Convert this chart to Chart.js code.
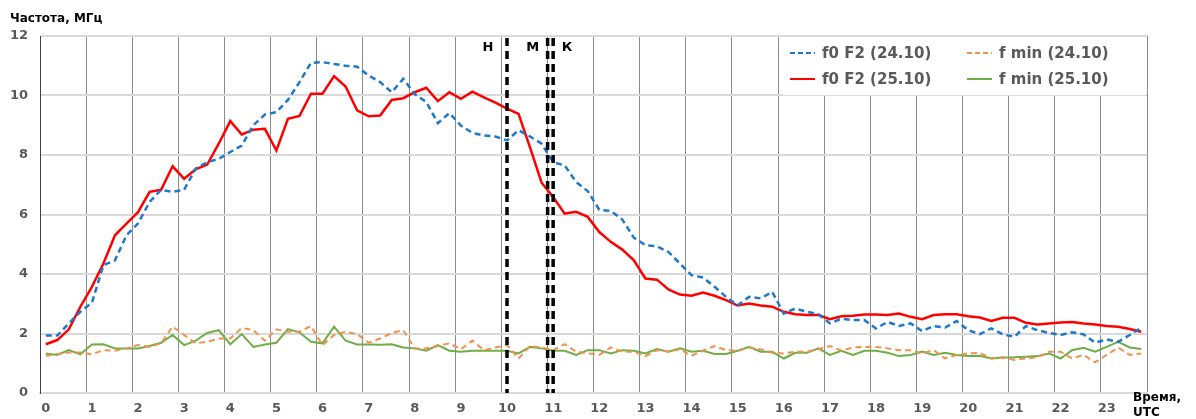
<!DOCTYPE html>
<html>
<head>
<meta charset="utf-8">
<script src="https://cdn.jsdelivr.net/npm/chart.js@4.4.1/dist/chart.umd.min.js"></script>
<style>
  html, body { margin: 0; padding: 0; background: #fff; }
</style>
</head>
<body>
<canvas id="chartFreq" width="1196" height="419"></canvas>
<script>
// Время (UTC), шаг 15 минут
const horas = Array.from({ length: 96 }, (_, i) => i / 4);
const etiquetasX = ['0','1','2','3','4','5','6','7','8','9','10','11','12','13','14','15','16','17','18','19','20','21','22','23'];

// f0 F2 (24.10)
const f0F2_2410 = [
  1.93, 1.93, 2.34, 2.73, 3.03, 4.30, 4.46, 5.30, 5.70, 6.42, 6.83, 6.76,
  6.83, 7.54, 7.76, 7.87, 8.10, 8.32, 9.00, 9.36, 9.44, 9.85, 10.45, 11.10,
  11.12, 11.06, 11.00, 10.97, 10.67, 10.45, 10.11, 10.56, 10.05, 9.78, 9.07, 9.41,
  8.99, 8.74, 8.66, 8.62, 8.49, 8.83, 8.62, 8.38, 7.76, 7.65, 7.09, 6.79,
  6.16, 6.12, 5.83, 5.22, 4.97, 4.93, 4.74, 4.35, 3.96, 3.88, 3.57, 3.23,
  2.95, 3.23, 3.18, 3.40, 2.67, 2.84, 2.73, 2.65, 2.34, 2.50, 2.45, 2.45,
  2.17, 2.39, 2.25, 2.34, 2.08, 2.25, 2.20, 2.42, 2.11, 1.98, 2.17, 1.97,
  1.89, 2.25, 2.11, 2.02, 1.95, 2.04, 1.97, 1.69, 1.80, 1.72, 1.95, 2.19
];
// f min (24.10)
const fmin_2410 = [
  1.25, 1.31, 1.36, 1.36, 1.30, 1.44, 1.42, 1.50, 1.61, 1.55, 1.67, 2.23,
  1.95, 1.67, 1.72, 1.83, 1.83, 2.19, 2.11, 1.76, 2.14, 2.06, 2.06, 2.25,
  1.61, 1.95, 2.06, 1.98, 1.69, 1.83, 2.02, 2.11, 1.50, 1.50, 1.58, 1.67,
  1.47, 1.76, 1.44, 1.53, 1.61, 1.16, 1.58, 1.53, 1.44, 1.64, 1.39, 1.33,
  1.28, 1.53, 1.39, 1.39, 1.24, 1.44, 1.39, 1.47, 1.25, 1.42, 1.58, 1.44,
  1.42, 1.53, 1.47, 1.35, 1.33, 1.39, 1.39, 1.47, 1.58, 1.42, 1.53, 1.55,
  1.55, 1.50, 1.44, 1.44, 1.33, 1.44, 1.16, 1.28, 1.33, 1.35, 1.16, 1.20,
  1.11, 1.16, 1.20, 1.39, 1.39, 1.16, 1.28, 1.03, 1.28, 1.53, 1.28, 1.33
];
// f0 F2 (25.10)
const f0F2_2510 = [
  1.64, 1.78, 2.14, 2.90, 3.57, 4.35, 5.30, 5.69, 6.08, 6.76, 6.83, 7.62,
  7.20, 7.52, 7.68, 8.38, 9.14, 8.69, 8.85, 8.88, 8.15, 9.22, 9.31, 10.06,
  10.06, 10.65, 10.30, 9.50, 9.30, 9.33, 9.85, 9.91, 10.11, 10.26, 9.81, 10.11,
  9.89, 10.13, 9.94, 9.76, 9.56, 9.38, 8.25, 7.07, 6.59, 6.03, 6.09, 5.92,
  5.41, 5.08, 4.82, 4.46, 3.85, 3.81, 3.48, 3.31, 3.27, 3.38, 3.27, 3.12,
  2.94, 3.01, 2.94, 2.90, 2.73, 2.65, 2.62, 2.62, 2.48, 2.58, 2.60, 2.64,
  2.64, 2.62, 2.67, 2.56, 2.48, 2.62, 2.65, 2.65, 2.58, 2.54, 2.42, 2.53,
  2.53, 2.36, 2.30, 2.34, 2.37, 2.39, 2.34, 2.30, 2.25, 2.23, 2.15, 2.06
];
// f min (25.10)
const fmin_2510 = [
  1.33, 1.28, 1.44, 1.30, 1.63, 1.64, 1.50, 1.50, 1.50, 1.58, 1.69, 1.95,
  1.61, 1.76, 2.02, 2.11, 1.64, 1.98, 1.55, 1.63, 1.69, 2.15, 2.04, 1.72,
  1.67, 2.23, 1.76, 1.63, 1.63, 1.62, 1.64, 1.53, 1.50, 1.42, 1.61, 1.42,
  1.39, 1.42, 1.42, 1.42, 1.42, 1.33, 1.55, 1.50, 1.42, 1.42, 1.28, 1.44,
  1.44, 1.33, 1.44, 1.42, 1.33, 1.48, 1.39, 1.50, 1.39, 1.42, 1.31, 1.31,
  1.42, 1.55, 1.39, 1.39, 1.16, 1.35, 1.35, 1.50, 1.28, 1.42, 1.28, 1.42,
  1.42, 1.35, 1.24, 1.28, 1.39, 1.28, 1.35, 1.28, 1.24, 1.25, 1.16, 1.19,
  1.20, 1.22, 1.24, 1.33, 1.16, 1.44, 1.52, 1.39, 1.55, 1.72, 1.53, 1.48
];

// Отметки затмения: начало, максимум, конец
const marcasHora = [10.0, 10.88, 11.0];
const marcasTexto = ['Н', 'М', 'К'];

const fuente = '"DejaVu Sans", Verdana, sans-serif';
const puntos = (vals) => vals.map((v, i) => ({ x: horas[i], y: v }));

const series = [
  { label: 'f0 F2 (24.10)', data: puntos(f0F2_2410), borderColor: '#1f78c8', borderWidth: 2.5, borderDash: [6, 4] },
  { label: 'f min (24.10)', data: puntos(fmin_2410), borderColor: '#f0924f', borderWidth: 2, borderDash: [6, 4] },
  { label: 'f0 F2 (25.10)', data: puntos(f0F2_2510), borderColor: '#ff0000', borderWidth: 2.5, borderDash: [] },
  { label: 'f min (25.10)', data: puntos(fmin_2510), borderColor: '#70ad47', borderWidth: 2, borderDash: [] }
];

// Títulos de ejes, marcas verticales y leyenda
const extras = {
  id: 'extras',
  afterDatasetsDraw(chart) {
    const { ctx, chartArea, scales } = chart;
    ctx.save();
    // marcas verticales
    ctx.strokeStyle = '#000';
    ctx.lineWidth = 3.5;
    ctx.setLineDash([8, 5]);
    marcasHora.forEach((h) => {
      const px = scales.x.getPixelForValue(h);
      ctx.beginPath();
      ctx.moveTo(px, chartArea.top + 2);
      ctx.lineTo(px, chartArea.bottom);
      ctx.stroke();
    });
    ctx.setLineDash([]);
    ctx.fillStyle = '#000';
    ctx.font = 'bold 13px ' + fuente;
    ctx.textAlign = 'center';
    ctx.textBaseline = 'middle';
    const desp = [-19, -15, 14];
    marcasHora.forEach((h, i) => {
      ctx.fillText(marcasTexto[i], scales.x.getPixelForValue(h) + desp[i], chartArea.top + 12);
    });

    // leyenda
    const lx = 783, ly = chartArea.top + 1, lw = chartArea.right - 1 - lx, lh = 58;
    ctx.fillStyle = '#fff';
    ctx.fillRect(lx, ly, lw, lh);
    ctx.font = 'bold 15px ' + fuente;
    ctx.textAlign = 'left';
    const pos = [[790, 53], [967, 53], [790, 79], [967, 79]];
    [0, 1, 2, 3].forEach((k, i) => {
      const ds = series[k];
      const [x0, y0] = pos[i];
      ctx.strokeStyle = ds.borderColor;
      ctx.lineWidth = 2;
      ctx.setLineDash(ds.borderDash.length ? [5, 3] : []);
      ctx.beginPath();
      ctx.moveTo(x0, y0);
      ctx.lineTo(x0 + 25, y0);
      ctx.stroke();
      ctx.setLineDash([]);
      ctx.fillStyle = '#595959';
      ctx.fillText(ds.label, x0 + 32, y0 + 1);
    });

    // títulos de ejes
    ctx.fillStyle = '#000';
    ctx.font = 'bold 12px ' + fuente;
    ctx.textAlign = 'left';
    ctx.fillText('Частота, МГц', 10, 19);
    ctx.fillText('Время,', 1133, 398);
    ctx.fillText('UTC', 1133, 413);
    ctx.restore();
  }
};

const ctx = document.getElementById('chartFreq').getContext('2d');
new Chart(ctx, {
  type: 'line',
  data: {
    datasets: series.map((s) => ({
      label: s.label,
      data: s.data,
      borderColor: s.borderColor,
      borderWidth: s.borderWidth,
      borderDash: s.borderDash,
      pointRadius: 0,
      tension: 0,
      fill: false
    }))
  },
  options: {
    responsive: false,
    animation: false,
    devicePixelRatio: 1,
    layout: { padding: { top: 36, right: 49, left: 0, bottom: 0 } },
    plugins: {
      legend: { display: false },
      tooltip: { enabled: false }
    },
    scales: {
      x: {
        type: 'linear',
        min: -0.125,
        max: 23.875,
        afterBuildTicks: (scale) => {
          scale.ticks = Array.from({ length: 25 }, (_, k) => ({ value: k - 0.125 }));
        },
        afterFit: (scale) => { scale.height = 26; },
        ticks: {
          autoSkip: false,
          maxRotation: 0,
          labelOffset: 5.8,
          padding: 8,
          color: '#595959',
          font: { family: fuente, size: 13, weight: 'bold' },
          callback: (value, index) => (index < etiquetasX.length ? etiquetasX[index] : '')
        },
        grid: {
          drawTicks: false,
          color: (c) => (c.index === 0 ? '#404040' : '#8c8c8c'),
          lineWidth: 1
        },
        border: { color: '#d9d9d9', width: 2 }
      },
      y: {
        min: 0,
        max: 12,
        afterFit: (scale) => { scale.width = 40; },
        ticks: {
          stepSize: 2,
          padding: 12,
          color: '#595959',
          font: { family: fuente, size: 13, weight: 'bold' }
        },
        grid: {
          drawTicks: false,
          color: '#d9d9d9',
          lineWidth: 2
        },
        border: { color: '#404040', width: 1 }
      }
    }
  },
  plugins: [extras]
});
</script>
</body>
</html>
